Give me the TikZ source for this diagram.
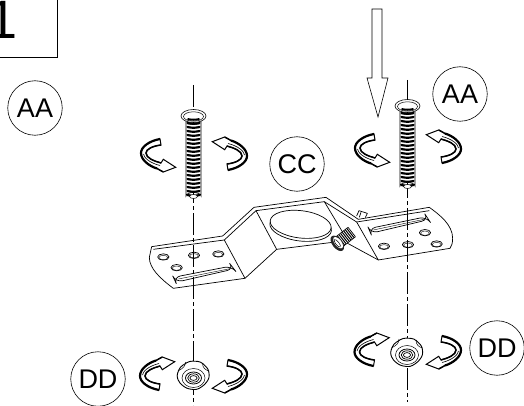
\documentclass[tikz,border=0pt]{standalone}
\usepackage{fontspec}
\setmainfont{Liberation Sans}
\tikzset{
  callout/.style={draw,circle,line width=0.6pt,minimum size=54.5pt,inner sep=0pt,
    font=\fontsize{27}{27}\selectfont},
  axisline/.style={line width=0.6pt,dash pattern=on 22pt off 3pt on 4pt off 3pt},
  part/.style={line width=0.7pt,line join=round},
  pics/twist/.style={code={
    \filldraw[fill=white,line width=1pt,line join=miter,miter limit=3] (2,-16)
      .. controls (-9,-14) and (-17,-8) .. (-17,-2)
      .. controls (-17,5) and (-9,11) .. (-1,13.5)
      -- (5.3,17) -- (17.7,12.3) -- (5.3,4.3) -- (3,8)
      .. controls (-4,6) and (-12,3) .. (-12,-2)
      .. controls (-12,-6) and (-5,-9) .. (3,-10) -- cycle;
    \draw[line width=2.2pt] (2,-16)
      .. controls (-9,-14) and (-17,-8) .. (-17,-2)
      .. controls (-17,5) and (-9,11) .. (-1,13.5);
    \draw[line width=1.5pt] (3,-10)
      .. controls (-5,-9) and (-12,-6) .. (-12,-2)
      .. controls (-12,3) and (-4,6) .. (3,8);
    \draw[line width=1.4pt] (-1,13.5) -- (5.3,17);
    \draw[line width=0.6pt] (-14.5,-1) .. controls (-14,3) and (-8,8) .. (2,10.5);
  }},
  pics/screw/.style={code={
    \filldraw[fill=white,line width=0.6pt] (-7.5,1) -- (-7.5,80) arc[start angle=180,end angle=360,x radius=7.5,y radius=3.5] -- (7.5,1) -- cycle;
    \foreach \yy in {3,7,...,79}
      \draw[line width=2.2pt,line cap=round] (-6,\yy) .. controls (-2,\yy+1) and (2,\yy+1) .. (6,\yy);
    \filldraw[fill=white,line width=0.5pt] (0,80.5) ellipse (4 and 2);
    \filldraw[fill=white,line width=0.6pt] (0,0) ellipse (12.5 and 6.5);
    \draw[line width=0.5pt] (0,0.5) ellipse (10 and 4.7);
    \foreach \yy in {3,7}
      \draw[line width=2pt] (-6,\yy) .. controls (-2,\yy+1) and (2,\yy+1) .. (6,\yy);
  }},
  pics/nut/.style={code={
    \filldraw[fill=white,line width=0.9pt,rounded corners=3pt] (-17,1) -- (-13.5,-8) -- (-4,-14) -- (7,-13.5)
      -- (15,-6) -- (16,3) -- (11,10) -- (3,15) -- (-7,13.5) -- (-14,8) -- cycle;
    \draw[line width=0.5pt] (-15.5,-4) .. controls (-10,-7) and (-8,-9) .. (-8,-13);
    \draw[line width=0.5pt] (9,-12) .. controls (9,-7) and (12,-5) .. (15.5,-4);
    \draw[line width=0.5pt] (0,3) ellipse (11.5 and 9.5);
    \draw[line width=0.8pt] (0,3) ellipse (8 and 6);
    \draw[line width=0.7pt] (0,3) ellipse (5.8 and 4.2);
    \draw[line width=0.7pt] (0,3) ellipse (3.6 and 2.4);
  }},
}
\begin{document}
\begin{tikzpicture}[x=1pt,y=-1pt]
  \useasboundingbox (0,0) rectangle (524,406);

  % step number
  \draw[line width=0.9pt] (-5,-5) rectangle (57,57);
  \node[anchor=base west,inner sep=0pt,font=\fontsize{54}{54}\selectfont] (stepno) at (-13,38.5) {1};

  % bracket, in units of a third of a pixel
  \begin{scope}[shift={(130,170)},x=0.3333pt,y=-0.3333pt,part]
    \filldraw[fill=white] (65,230) -- (278,198) -- (372,112) -- (588,82) -- (685,148) -- (898,112)
      .. controls (930,135) and (968,165) .. (968,205) .. controls (968,220) and (965,228) .. (960,235)
      -- (745,270) -- (640,213) -- (440,238) -- (345,325) -- (130,355)
      .. controls (90,325) and (58,295) .. (58,262) -- cycle;
    \draw (70,238) -- (283,210) -- (378,122) -- (583,95) -- (680,156) -- (898,122);
    \draw (283,210) -- (345,325) (378,122) -- (440,238) (583,95) -- (640,190) (680,156) -- (745,270);
    % plate opening
    \draw[rotate around={-7:(512,171)}] (512,171) ellipse (93 and 42);
    \filldraw[fill=white,rotate around={-7:(512,163)}] (512,163) ellipse (92 and 41);
    % holes and slots
    \foreach \hx/\hy in {100/261,192/256,265/252,140/293,762/229,834/224,920/222,885/188}{
      \draw[line width=0.7pt] (\hx,\hy) ellipse (17 and 9.5);
      \draw[line width=0.4pt] (\hx,\hy+1.5) ellipse (13 and 6.5);
    }
    \draw[line width=0.7pt,rounded corners=7pt] (130,322) -- (305,288) -- (312,297) -- (137,337) -- cycle;
    \draw[line width=0.4pt] (145,327) -- (300,296);
    \draw[line width=0.7pt,rounded corners=7pt] (716,176) -- (890,140) -- (896,149) -- (722,190) -- cycle;
    \draw[line width=0.4pt] (730,180) -- (882,148);
    % far bolt end
    \filldraw[fill=white] (680,138) -- (687,122) -- (712,130) -- (706,143);
    \draw (693,127) -- (688,142);
    % clamp bolt
    \begin{scope}[shift={(622,220)},rotate=38]
      \filldraw[fill=white] (8,-18) rectangle (55,18);
      \foreach \bx in {14,20,...,54}
        \draw[line width=1pt] (\bx,-17) -- (\bx,17);
      \fill[black!85] (0,0) ellipse (15 and 27);
      \fill[white] (3,0) ellipse (10 and 20);
      \draw[line width=0.5pt] (0,0) ellipse (5 and 14);
    \end{scope}
  \end{scope}

  % centre lines
  \draw[axisline] (193.5,85) -- (193.5,405);
  \draw[axisline] (407.5,80) -- (407.5,402);

  % hardware
  \pic at (193.5,116) {screw};
  \pic at (407.5,106) {screw};
  \pic at (193.5,375) {nut};
  \pic at (407,352) {nut};

  % turning arrows
  \pic[rotate=180] at (230,154) {twist};
  \pic at (158,155) {twist};
  \pic at (372,150) {twist};
  \pic[rotate=180] at (444,147) {twist};
  \pic[yscale=-1] at (157,374) {twist};
  \pic[xscale=-1] at (230,376) {twist};
  \pic[yscale=-1] at (371.5,350) {twist};
  \pic[xscale=-1] at (444,352) {twist};

  % push arrow
  \draw[line width=0.6pt,line join=miter] (372,9) -- (382,9) -- (382,78) -- (388,78) -- (378,117) -- (367,78) -- (372,78) -- cycle;

  % callouts
  \node[callout] (aa1) at (35,108) {AA};
  \node[callout] (aa2) at (460,94) {AA};
  \node[callout] (cc) at (297,164) {CC};
  \node[callout] (dd1) at (98,379) {DD};
  \node[callout] (dd2) at (497,348) {DD};
\end{tikzpicture}
\end{document}
